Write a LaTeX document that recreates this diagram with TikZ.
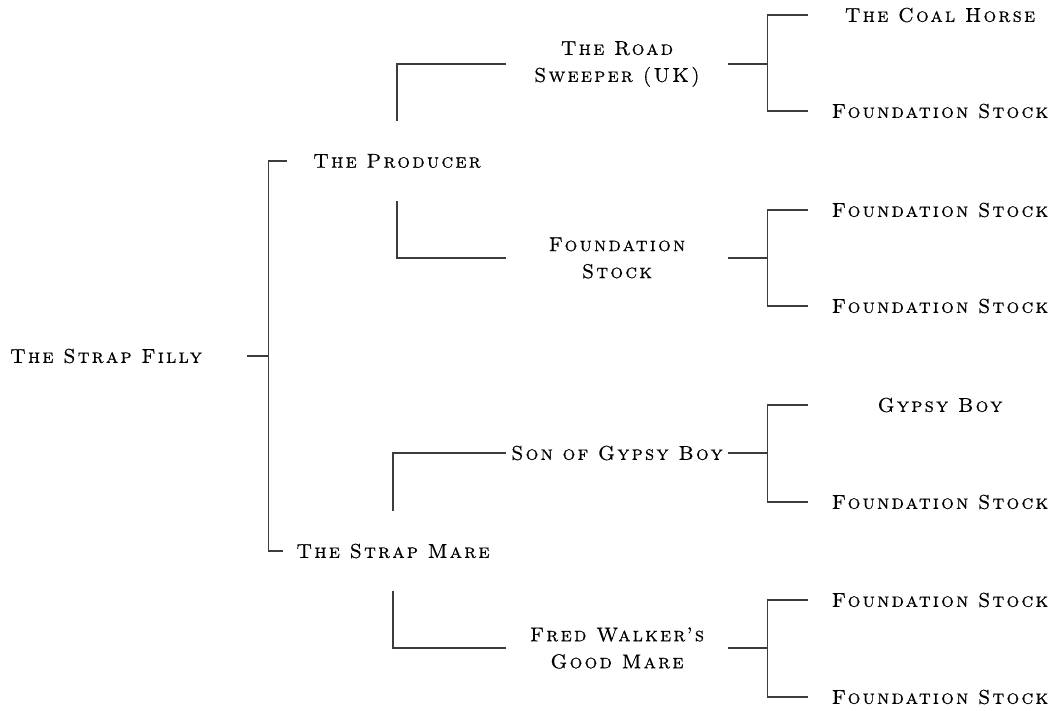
\documentclass[tikz,border=0pt]{standalone}
\usepackage{fontspec}
\usepackage{tikz}
\usetikzlibrary{positioning, calc}
\definecolor{linkcolor}{RGB}{60, 60, 60}
\newfontfamily\pedigreefont{lmromancaps10-regular.otf}[LetterSpace=11, FakeBold=0.6]

\begin{document}
\begin{tikzpicture}[
    x=1pt, y=-1pt,
    horse/.style={font=\pedigreefont\fontsize{20}{27}\selectfont, align=center, inner sep=0pt, minimum width=#1},
    horse/.default=220pt,
    link/.style={draw=linkcolor, line width=1.3pt}
]
    \useasboundingbox (0,0) rectangle (1057,710);

    % Foal
    \node[horse=282pt] (filly) at (106,356) {The Strap Filly};

    % Sire and dam
    \node[horse, minimum height=80pt] (producer) at (397,161) {The Producer};
    \node[horse, minimum height=80pt] (mare) at (393,551) {The Strap Mare};

    % Grandparents
    \node[horse=221pt] (sweeper) at (617,64) {The Road\\Sweeper (UK)};
    \node[horse=221pt] (foundP) at (617,258) {Foundation\\Stock};
    \node[horse=221pt] (sonGypsy) at (617,453) {Son of Gypsy Boy};
    \node[horse=221pt] (walker) at (617,648) {Fred Walker’s\\Good Mare};

    % Great-grandparents
    \node[horse=264pt] (coal) at (940,15) {The Coal Horse};
    \node[horse=264pt] (foundA) at (940,111) {Foundation Stock};
    \node[horse=264pt] (foundB) at (940,210) {Foundation Stock};
    \node[horse=264pt] (foundC) at (940,306) {Foundation Stock};
    \node[horse=264pt] (gypsy) at (940,405) {Gypsy Boy};
    \node[horse=264pt] (foundD) at (940,502) {Foundation Stock};
    \node[horse=264pt] (foundE) at (940,600) {Foundation Stock};
    \node[horse=264pt] (foundF) at (940,697) {Foundation Stock};

    % Links
    \draw[link] (filly.east) -- ++(21,0) coordinate (jFilly);
    \draw[link] (producer.west) -| (jFilly) |- (mare.west);

    \draw[link] (sweeper.west) -| (producer.north);
    \draw[link] (foundP.west) -| (producer.south);
    \draw[link] (sonGypsy.west) -| (mare.north);
    \draw[link] (walker.west) -| (mare.south);

    \draw[link] (sweeper.east) -- ++(40,0) coordinate (jSweeper);
    \draw[link] (coal.west) -| (jSweeper) |- (foundA.west);
    \draw[link] (foundP.east) -- ++(40,0) coordinate (jFoundP);
    \draw[link] (foundB.west) -| (jFoundP) |- (foundC.west);
    \draw[link] (sonGypsy.east) -- ++(40,0) coordinate (jSonGypsy);
    \draw[link] (gypsy.west) -| (jSonGypsy) |- (foundD.west);
    \draw[link] (walker.east) -- ++(40,0) coordinate (jWalker);
    \draw[link] (foundE.west) -| (jWalker) |- (foundF.west);

\end{tikzpicture}
\end{document}
